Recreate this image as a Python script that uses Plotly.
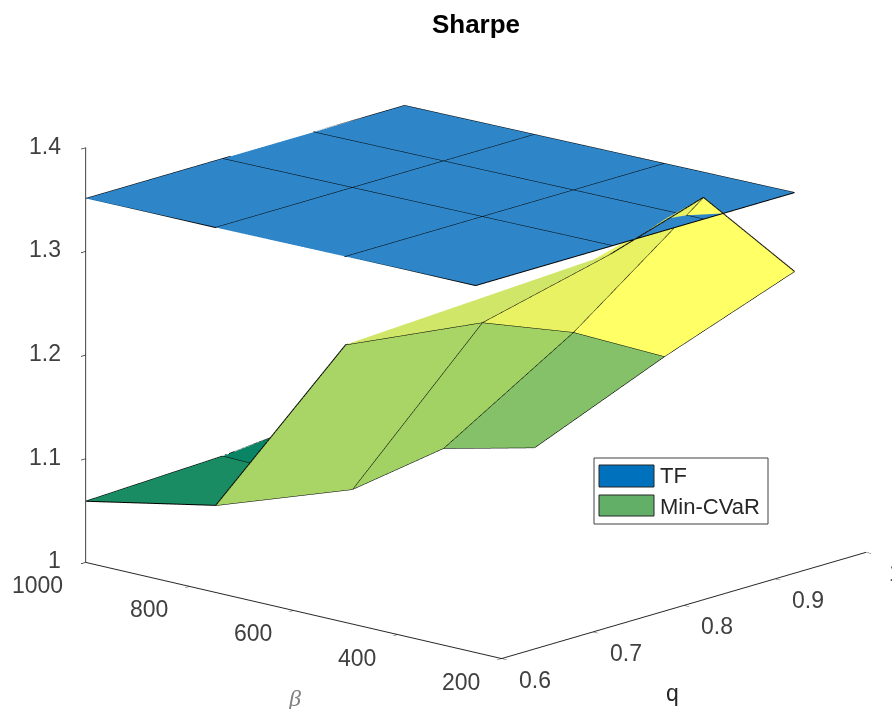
import plotly.graph_objects as go

# Data (rows: beta, columns: q)
beta = [1000, 750, 500, 250]
q = [0.6, 0.75, 0.85, 0.95]
tf_sharpe = [
    [1.351, 1.351, 1.351, 1.351],
    [1.352, 1.352, 1.352, 1.352],
    [1.353, 1.353, 1.353, 1.353],
    [1.354, 1.354, 1.354, 1.354],
]
cvar_sharpe = [
    [1.059, 1.064, 1.072, 1.070],
    [1.084, 1.061, 1.075, 1.050],
    [1.268, 1.251, 1.216, 1.167],
    [None, 1.347, 1.375, 1.278],
]
cvar_face_colors = [
    ["#1a8c64", "#098565", "#098565"],
    ["#a9d566", "#a2d164", "#84c168"],
    ["#d0e668", "#e8f262", "#ffff66"],
]
tf_color = "#2e86c8"
legend_names = ["TF", "Min-CVaR"]
legend_colors = ["#0072bd", "#62b068"]
beta_ticks = [200, 400, 600, 800, 1000]
q_ticks = [0.6, 0.7, 0.8, 0.9, 1.0]
z_ticks = [1, 1.1, 1.2, 1.3, 1.4]
q_tick_text = ["0.6", "0.7", "0.8", "0.9", "1"]
z_tick_text = ["1", "1.1", "1.2", "1.3", "1.4"]


def surface_traces(z, colors, name):
    xs, ys, zs, index = [], [], [], {}
    for a, b in enumerate(beta):
        for c, v in enumerate(q):
            if z[a][c] is not None:
                index[(a, c)] = len(xs)
                xs.append(v)
                ys.append(b)
                zs.append(z[a][c])
    ti, tj, tk, fc = [], [], [], []
    for a in range(len(beta) - 1):
        for c in range(len(q) - 1):
            corners = [(a, c), (a + 1, c), (a + 1, c + 1), (a, c + 1)]
            valid = [index[p] for p in corners if p in index]
            for n in range(1, len(valid) - 1):
                ti.append(valid[0])
                tj.append(valid[n])
                tk.append(valid[n + 1])
                fc.append(colors[a][c])
    mesh = go.Mesh3d(
        x=xs, y=ys, z=zs, i=ti, j=tj, k=tk, facecolor=fc, flatshading=True, name=name,
        lighting=dict(ambient=1, diffuse=0, specular=0, roughness=1, fresnel=0),
        hoverinfo="skip", showlegend=False,
    )
    lx, ly, lz = [], [], []
    for a in range(len(beta)):
        for c in range(len(q)):
            for p in ((a + 1, c), (a, c + 1)):
                if (a, c) in index and p in index:
                    lx += [q[c], q[p[1]], None]
                    ly += [beta[a], beta[p[0]], None]
                    lz += [z[a][c], z[p[0]][p[1]], None]
    edges = go.Scatter3d(x=lx, y=ly, z=lz, mode="lines", line=dict(color="black", width=2),
                         hoverinfo="skip", showlegend=False, connectgaps=False)
    return [mesh, edges]


fig = go.Figure()
for t in surface_traces(tf_sharpe, [[tf_color] * 3] * 3, legend_names[0]):
    fig.add_trace(t)
for t in surface_traces(cvar_sharpe, cvar_face_colors, legend_names[1]):
    fig.add_trace(t)

axis_common = dict(showgrid=False, showbackground=False, zeroline=False, showline=True,
                   linecolor="#262626", linewidth=2, ticks="outside", ticklen=7,
                   tickcolor="#262626", tickwidth=1.5, showticklabels=False,
                   showspikes=False, title=dict(text=""))

tick_font = dict(family="Liberation Sans, Arial", size=23, color="#404040")
scene_labels = []
for v, s in zip(q_ticks, q_tick_text):
    scene_labels.append(dict(x=v, y=200, z=1, text=s, showarrow=False, font=tick_font,
                             xanchor="center", yanchor="middle", xshift=33 if v < 1 else 29, yshift=-21))
for v in beta_ticks:
    scene_labels.append(dict(x=0.6, y=v, z=1, text=str(v), showarrow=False, font=tick_font,
                             xanchor="center", yanchor="middle", xshift=-41 if v < 1000 else -48, yshift=-23))
for v, s in zip(z_ticks, z_tick_text):
    scene_labels.append(dict(x=0.6, y=1000, z=v, text=s, showarrow=False, font=tick_font,
                             xanchor="right", yanchor="middle", xshift=-23, yshift=2))

S = 1.571
d = 1.28
cx, cy, cz = -0.0585, 0.0608, -0.0122
fig.update_layout(
    width=892, height=709, margin=dict(l=0, r=0, t=0, b=0),
    paper_bgcolor="white",
    title=dict(text="<b>Sharpe</b>", x=476 / 892, xanchor="center", y=1 - 24 / 709, yanchor="middle",
               font=dict(family="Liberation Sans, Arial", size=26, color="black")),
    scene=dict(
        domain=dict(x=[0, 1], y=[0, 1]),
        xaxis=dict(range=[0.6, 1.0], tickvals=q_ticks, ticktext=q_tick_text, **axis_common),
        yaxis=dict(range=[200, 1000], tickvals=beta_ticks, ticktext=[str(v) for v in beta_ticks], **axis_common),
        zaxis=dict(range=[1, 1.4], tickvals=z_ticks, ticktext=z_tick_text, **axis_common),
        aspectmode="manual",
        aspectratio=dict(x=0.984 * S, y=1 * S, z=0.771 * S),
        camera=dict(projection=dict(type="orthographic"),
                    eye=dict(x=cx - 0.721 * d, y=cy - 0.642 * d, z=cz + 0.2596 * d),
                    center=dict(x=cx, y=cy, z=cz), up=dict(x=0, y=0, z=1)),
        annotations=scene_labels,
    ),
    shapes=[
        dict(type="rect", xref="paper", yref="paper", x0=594 / 892, x1=768 / 892, y0=1 - 524 / 709, y1=1 - 458 / 709,
             line=dict(color="#404040", width=1), fillcolor="white"),
        dict(type="rect", xref="paper", yref="paper", x0=599 / 892, x1=654 / 892, y0=1 - 487 / 709, y1=1 - 465 / 709,
             line=dict(color="#262626", width=1), fillcolor=legend_colors[0]),
        dict(type="rect", xref="paper", yref="paper", x0=599 / 892, x1=654 / 892, y0=1 - 516 / 709, y1=1 - 495 / 709,
             line=dict(color="#262626", width=1), fillcolor=legend_colors[1]),
    ],
    annotations=[
        dict(text=legend_names[0], xref="paper", yref="paper", x=658 / 892, y=1 - 476 / 709, xanchor="left", yanchor="middle",
             showarrow=False, font=dict(family="Liberation Sans, Arial", size=22, color="#262626")),
        dict(text=legend_names[1], xref="paper", yref="paper", x=658 / 892, y=1 - 506 / 709, xanchor="left", yanchor="middle",
             showarrow=False, font=dict(family="Liberation Sans, Arial", size=22, color="#262626")),
        dict(text="<i>β</i>", xref="paper", yref="paper", x=294 / 892, y=1 - 698 / 709, xanchor="center", yanchor="middle",
             showarrow=False, font=dict(family="Liberation Serif, serif", size=24, color="#808080")),
        dict(text="q", xref="paper", yref="paper", x=672 / 892, y=1 - 693 / 709, xanchor="center", yanchor="middle",
             showarrow=False, font=dict(family="Liberation Sans, Arial", size=23, color="#262626")),
    ],
)
fig.write_html("out.html", post_script="document.body.style.margin='0px';",
               config=dict(displayModeBar=False))
